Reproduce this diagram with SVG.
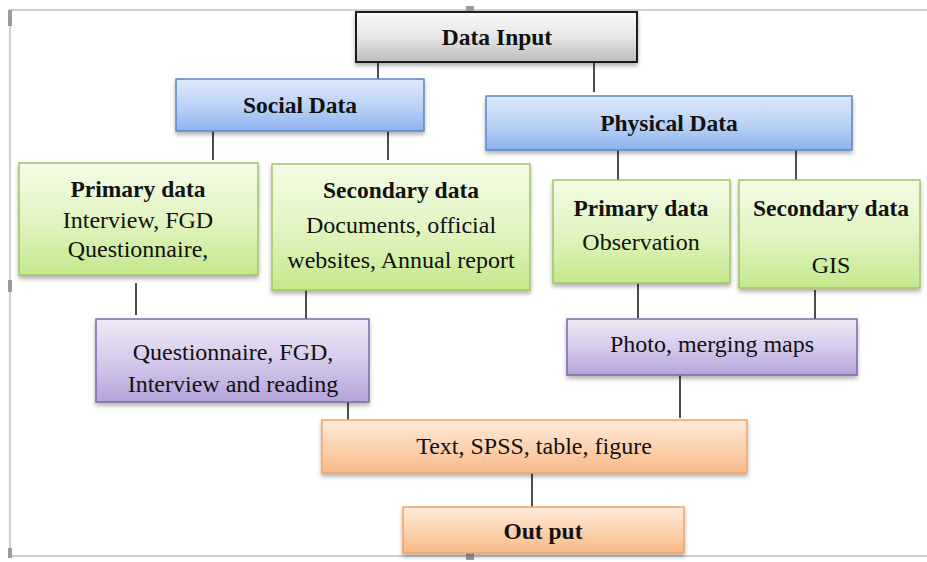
<svg xmlns="http://www.w3.org/2000/svg" width="927" height="562" viewBox="0 0 927 562">
<defs>
<linearGradient id="gGrey" x1="0" y1="0" x2="0" y2="1"><stop offset="0" stop-color="#fafafa"/><stop offset="0.5" stop-color="#e6e6e6"/><stop offset="1" stop-color="#bdbdbd"/></linearGradient>
<linearGradient id="gBlue" x1="0" y1="0" x2="0" y2="1"><stop offset="0" stop-color="#dde9fb"/><stop offset="0.5" stop-color="#bcd3f6"/><stop offset="1" stop-color="#8fb3ee"/></linearGradient>
<linearGradient id="gGreen" x1="0" y1="0" x2="0" y2="1"><stop offset="0" stop-color="#f4fbe6"/><stop offset="0.5" stop-color="#e2f5c3"/><stop offset="1" stop-color="#c3e98c"/></linearGradient>
<linearGradient id="gPurple" x1="0" y1="0" x2="0" y2="1"><stop offset="0" stop-color="#eee9f6"/><stop offset="0.5" stop-color="#d6cbeb"/><stop offset="1" stop-color="#b4a2da"/></linearGradient>
<linearGradient id="gOrange" x1="0" y1="0" x2="0" y2="1"><stop offset="0" stop-color="#feeadb"/><stop offset="0.5" stop-color="#fcd3b0"/><stop offset="1" stop-color="#f9b987"/></linearGradient>
<filter id="sh" x="-5%" y="-10%" width="110%" height="130%"><feDropShadow dx="0" dy="3" stdDeviation="2" flood-color="#000" flood-opacity="0.3"/></filter>
</defs>
<style>
.t{font-family:"Liberation Serif","Times New Roman",serif;font-size:24px;fill:#111;text-anchor:middle}
.b{font-weight:bold;font-size:23.5px}
.grey{fill:url(#gGrey);stroke:#1a1a1a;stroke-width:2}
.blue{fill:url(#gBlue);stroke:#5b86c5;stroke-width:1.5}
.green{fill:url(#gGreen);stroke:#a3c46a;stroke-width:1.5}
.purple{fill:url(#gPurple);stroke:#7d68a8;stroke-width:1.5}
.orange{fill:url(#gOrange);stroke:#eea46a;stroke-width:1.5}
rect.box{filter:url(#sh)}
.c line{stroke:#111;stroke-width:1.5}
.frame{stroke:#d0d0d0;stroke-width:2;fill:none}
.handle{fill:#9a9aa4}
</style>
<rect width="927" height="562" fill="#fff"/>
<g id="frame">
<polyline class="frame" points="927,10 10,10 10,556 927,556"/>
<rect class="handle" x="466" y="6" width="8" height="8"/>
<rect class="handle" x="8" y="10" width="4" height="16"/>
<rect class="handle" x="8" y="280" width="4" height="12"/>
<rect class="handle" x="8" y="548" width="4" height="10"/>
<rect class="handle" x="466" y="551" width="8" height="9"/>
</g>
<g class="c" id="connectors">
<line x1="378" y1="62" x2="378" y2="93"/>
<line x1="594" y1="62" x2="594" y2="92"/>
<line x1="213" y1="131" x2="213" y2="160"/>
<line x1="388" y1="131" x2="388" y2="160"/>
<line x1="618" y1="143" x2="618" y2="188"/>
<line x1="796" y1="140" x2="796" y2="187"/>
<line x1="136" y1="283" x2="136" y2="315"/>
<line x1="306" y1="290" x2="306" y2="332"/>
<line x1="638" y1="278" x2="638" y2="318"/>
<line x1="815" y1="290" x2="815" y2="323"/>
<line x1="348" y1="394" x2="348" y2="426"/>
<line x1="680" y1="375" x2="680" y2="418"/>
<line x1="532" y1="473" x2="532" y2="507"/>
</g>
<g id="dataInput"><rect class="box grey" x="356" y="12" width="281" height="50"/><text class="t b" x="497" y="45">Data Input</text></g>
<g id="socialData"><rect class="box blue" x="176" y="79" width="248" height="52"/><text class="t b" x="300" y="113">Social Data</text></g>
<g id="physicalData"><rect class="box blue" x="486" y="96" width="366" height="54"/><text class="t b" x="669" y="131">Physical Data</text></g>
<g id="socialPrimary"><rect class="box green" x="19" y="163" width="239" height="112"/><text class="t b" x="138" y="197">Primary data</text><text class="t" x="138" y="228">Interview, FGD</text><text class="t" x="138" y="257">Questionnaire,</text></g>
<g id="socialSecondary"><rect class="box green" x="272" y="164" width="258" height="126"/><text class="t b" x="401" y="198">Secondary data</text><text class="t" x="401" y="233">Documents, official</text><text class="t" x="401" y="268">websites, Annual report</text></g>
<g id="physicalPrimary"><rect class="box green" x="553" y="180" width="177" height="103"/><text class="t b" x="641" y="216">Primary data</text><text class="t" x="641" y="250">Observation</text></g>
<g id="physicalSecondary"><rect class="box green" x="739" y="180" width="181" height="108"/><text class="t b" x="831" y="216">Secondary data</text><text class="t" x="831" y="273">GIS</text></g>
<g id="socialMethods"><rect class="box purple" x="96" y="319" width="273" height="83"/><text class="t" x="233" y="360">Questionnaire, FGD,</text><text class="t" x="233" y="392">Interview and reading</text></g>
<g id="physicalMethods"><rect class="box purple" x="567" y="319" width="290" height="56"/><text class="t" x="712" y="352">Photo, merging maps</text></g>
<g id="analysis"><rect class="box orange" x="322" y="420" width="425" height="53"/><text class="t" x="534" y="454">Text, SPSS, table, figure</text></g>
<g id="output"><rect class="box orange" x="403" y="507" width="281" height="46"/><text class="t b" x="543" y="539">Out put</text></g>
</svg>
